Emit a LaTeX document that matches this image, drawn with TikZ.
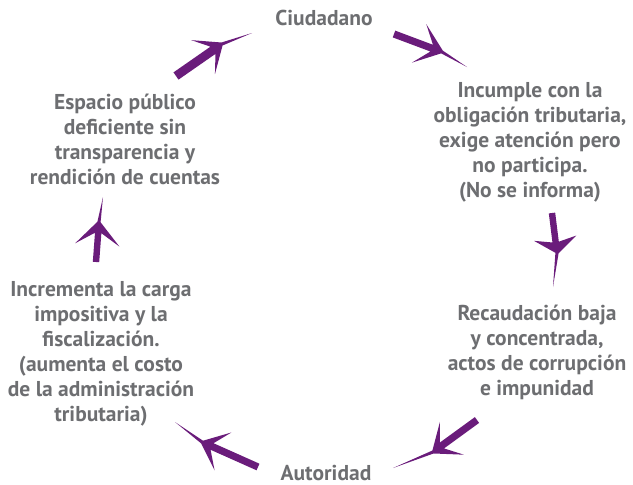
\documentclass[tikz,border=0pt]{standalone}
\usepackage{fontspec}
\setmainfont{PT Sans}
\usetikzlibrary{calc}

\definecolor{textgray}{RGB}{109,110,113}
\definecolor{cyclepurple}{RGB}{106,28,123}

% brush arrow: tail, head centre, tip, half width, barb length, barb angle
\newcommand\brushArrow[6]{%
  \coordinate (#1-j) at ($(#2)!11pt!(#1)$);
  \fill[brush] ($(#1)!#4!90:(#2)$) -- ($(#1-j)!#4!90:(#2)$)
    -- ($(#2)!#5!-#6:(#1)$) -- ($(#2)!1.6pt!90:(#3)$) -- (#3)
    -- ($(#2)!1.6pt!-90:(#3)$) -- ($(#2)!#5!#6:(#1)$)
    -- ($(#1-j)!#4!-90:(#2)$) -- ($(#1)!#4!-90:(#2)$) -- cycle;}

\begin{document}
\begin{tikzpicture}[
    x=1pt, y=-1pt,
    stage/.style = { text=textgray, font=\fontsize{21.5}{25}\selectfont\bfseries,
                     align=center, inner sep=0pt },
    brush/.style = { fill=cyclepurple },
  ]
  \useasboundingbox (0,0) rectangle (633,485);

  % stages of the cycle
  \node [stage] (ciudadano) at (324,18) {Ciudadano};
  \node [stage] (incumple) at (530,142) {Incumple con la\\obligación tributaria,\\exige atención pero\\no participa.\\(No se informa)};
  \node [stage] (recaudacion) at (537,352) {Recaudación baja\\y concentrada,\\actos de corrupción\\e impunidad};
  \node [stage] (autoridad) at (326,473) {Autoridad};
  \node [stage] (incrementa) at (101,354) {Incrementa la carga\\impositiva y la\\fiscalización.\\(aumenta el costo\\de la administración\\tributaria)};
  \node [stage] (espacio) at (125,139) {Espacio público\\deficiente sin\\transparencia y\\rendición de cuentas};

  % arrow points: tail, head, tip
  \coordinate (a1t) at (176,76);  \coordinate (a1c) at (222,44);  \coordinate (a1p) at (252,33);
  \coordinate (a2t) at (394,34);  \coordinate (a2c) at (442,52);  \coordinate (a2p) at (467,67);
  \coordinate (a3t) at (552,213); \coordinate (a3c) at (557,253); \coordinate (a3p) at (553,287);
  \coordinate (a4t) at (477,420); \coordinate (a4c) at (433,452); \coordinate (a4p) at (393,468);
  \coordinate (a5t) at (258,467); \coordinate (a5c) at (202,442); \coordinate (a5p) at (175,422);
  \coordinate (a6t) at (96,262);  \coordinate (a6c) at (99,222);  \coordinate (a6p) at (103,197);

  \brushArrow{a1t}{a1c}{a1p}{4.4pt}{31pt}{42}
  \brushArrow{a2t}{a2c}{a2p}{3.6pt}{32pt}{40}
  \brushArrow{a3t}{a3c}{a3p}{3.2pt}{26pt}{55}
  \brushArrow{a4t}{a4c}{a4p}{3.6pt}{31pt}{41}
  \brushArrow{a5t}{a5c}{a5p}{3.6pt}{31pt}{42}
  \brushArrow{a6t}{a6c}{a6p}{3.2pt}{32pt}{44}
\end{tikzpicture}
\end{document}
